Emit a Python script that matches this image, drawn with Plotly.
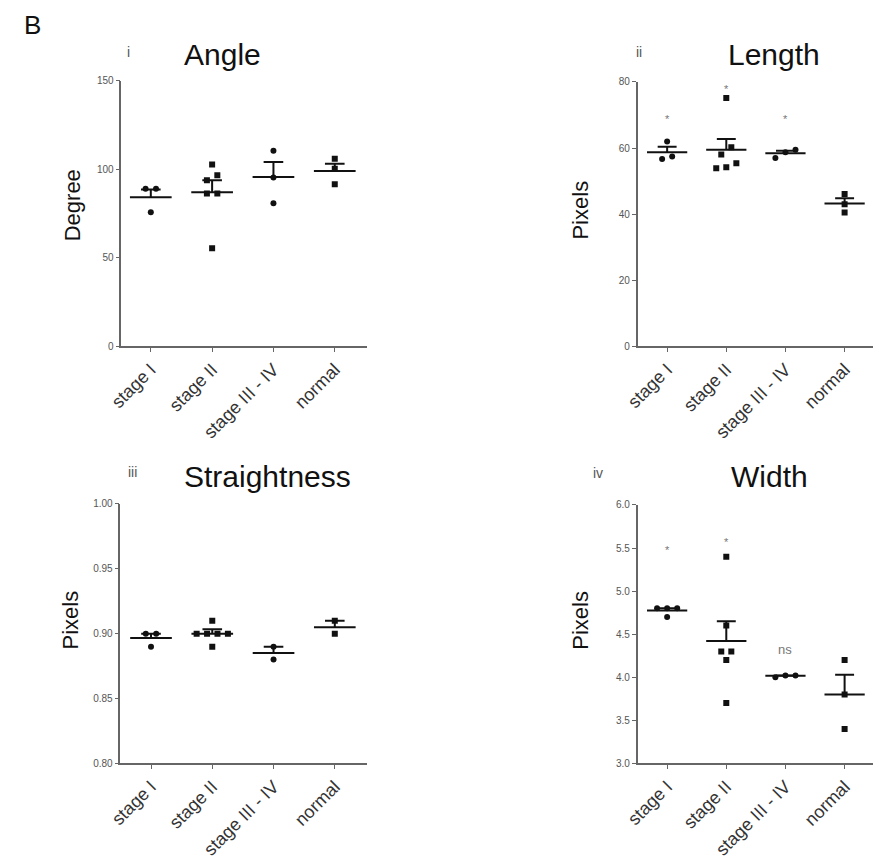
import plotly.graph_objects as go

# ---------------- data ----------------
CATEGORIES = ["stage I", "stage II", "stage III - IV", "normal"]

angle_points = [[89.0, 89.0, 75.8],
                [102.8, 96.7, 93.9, 86.4, 86.4, 55.4],
                [110.6, 95.4, 80.9],
                [106.0, 100.4, 91.6]]
angle_mean = [84.2, 87.0, 95.7, 99.1]
angle_sem = [4.4, 6.9, 8.4, 4.1]

length_points = [[62.0, 57.4, 56.7],
                 [75.1, 60.2, 58.0, 55.4, 53.9, 54.2],
                 [57.0, 59.5, 58.7],
                 [46.1, 43.0, 40.5]]
length_mean = [58.7, 59.5, 58.4, 43.2]
length_sem = [1.7, 3.2, 0.8, 1.6]
length_stars = [69.7, 78.9, 69.7, None]

straight_points = [[0.90, 0.90, 0.89],
                   [0.91, 0.90, 0.90, 0.90, 0.90, 0.89],
                   [0.89, 0.88],
                   [0.91, 0.90]]
straight_mean = [0.8967, 0.900, 0.885, 0.905]
straight_sem = [0.0033, 0.0035, 0.005, 0.005]

width_points = [[4.8, 4.8, 4.8, 4.7],
                [5.4, 4.6, 4.3, 4.3, 4.2, 3.7],
                [4.02, 4.0, 4.02],
                [4.2, 3.8, 3.4]]
width_mean = [4.775, 4.42, 4.016, 3.80]
width_sem = [0.025, 0.23, 0.004, 0.23]
width_marks = ["*", "*", "ns", None]
width_mark_y = [5.51, 5.61, 4.32, None]

angle_ticks = [0, 50, 100, 150]
length_ticks = [0, 20, 40, 60, 80]
straight_ticks = [0.80, 0.85, 0.90, 0.95, 1.00]
width_ticks = [3.0, 3.5, 4.0, 4.5, 5.0, 5.5, 6.0]

# ---------------- helpers ----------------
W, H = 873, 865
SYMBOLS = ["circle", "square", "circle", "square"]
FONT = "Liberation Sans, Arial, sans-serif"


def px(x):
    return x / W


def py(y):
    return 1 - y / H


def spread(vals, tol, step=0.17):
    """Prism-like horizontal spreading of nearly equal values."""
    order = sorted(range(len(vals)), key=lambda i: vals[i])
    clusters = []
    for i in order:
        if clusters and vals[i] - vals[clusters[-1][-1]] <= tol:
            clusters[-1].append(i)
        else:
            clusters.append([i])
    offs = [0.0] * len(vals)
    for c in clusters:
        k = len(c)
        for j, i in enumerate(c):
            offs[i] = (j - (k - 1) / 2) * step
    return offs


fig = go.Figure()

panels = [
    dict(points=angle_points, mean=angle_mean, sem=angle_sem, ticks=angle_ticks, fmt="d",
         yr=[0, 150], xdom=[110, 359], ydom=[345, 76], xr=[-0.48, 3.52]),
    dict(points=length_points, mean=length_mean, sem=length_sem, ticks=length_ticks, fmt="d",
         yr=[0, 80], xdom=[634, 873], ydom=[345, 77], xr=[-0.5, 3.48]),
    dict(points=straight_points, mean=straight_mean, sem=straight_sem, ticks=straight_ticks, fmt=".2f",
         yr=[0.80, 1.00], xdom=[109, 359], ydom=[768, 505], xr=[-0.5, 3.52]),
    dict(points=width_points, mean=width_mean, sem=width_sem, ticks=width_ticks, fmt=".1f",
         yr=[3.0, 6.0], xdom=[634, 873], ydom=[768, 506], xr=[-0.5, 3.48]),
]

layout_axes = {}
for p_i, p in enumerate(panels):
    n = p_i + 1
    xa = "x" if n == 1 else f"x{n}"
    ya = "y" if n == 1 else f"y{n}"
    span = p["yr"][1] - p["yr"][0]
    # points
    for c, vals in enumerate(p["points"]):
        offs = spread(vals, 0.025 * span if p_i == 0 else 0.03 * span)
        fig.add_trace(go.Scatter(
            x=[c + o for o in offs], y=vals, mode="markers", xaxis=xa, yaxis=ya,
            marker=dict(symbol=SYMBOLS[c], size=6, color="#111"),
            showlegend=False, hoverinfo="y"))
    # mean lines and SEM bars
    lx, ly = [], []
    for c, (m, s) in enumerate(zip(p["mean"], p["sem"])):
        lx += [c - 0.34, c + 0.34, None, c, c, None, c - 0.16, c + 0.16, None]
        ly += [m, m, None, m, m + s, None, m + s, m + s, None]
    fig.add_trace(go.Scatter(x=lx, y=ly, mode="lines", xaxis=xa, yaxis=ya,
                             line=dict(color="#111", width=2),
                             showlegend=False, hoverinfo="skip"))
    xkey = "xaxis" if n == 1 else f"xaxis{n}"
    ykey = "yaxis" if n == 1 else f"yaxis{n}"
    layout_axes[xkey] = dict(
        domain=[px(p["xdom"][0]), px(p["xdom"][1])], anchor=ya, range=p["xr"],
        tickmode="array", tickvals=[0, 1, 2, 3], ticktext=CATEGORIES, tickangle=-45,
        showline=True, linecolor="#666", linewidth=1.5, ticks="outside", ticklen=4,
        tickcolor="#666", showgrid=False, zeroline=False,
        tickfont=dict(family=FONT, size=18, color="#333"))
    layout_axes[ykey] = dict(
        domain=[py(p["ydom"][0]), py(p["ydom"][1])], anchor=xa, range=p["yr"],
        tickmode="array", tickvals=p["ticks"],
        ticktext=[format(t, p["fmt"]) if p["fmt"] != "d" else str(int(t)) for t in p["ticks"]],
        showline=True, linecolor="#666", linewidth=1.5, ticks="outside", ticklen=4,
        tickcolor="#666", showgrid=False, zeroline=False,
        tickfont=dict(family=FONT, size=10, color="#555"))

annotations = []


def text(x, y, s, size, color="#111", angle=0):
    annotations.append(dict(x=px(x), y=py(y), xref="paper", yref="paper", text=s,
                            showarrow=False, textangle=angle, xanchor="center", yanchor="middle",
                            font=dict(family=FONT, size=size, color=color)))


text(20, 19, "B", 26)
text(213, 49, "Angle", 30)
text(773, 49, "Length", 30)
text(258, 477, "Straightness", 30)
text(768, 477, "Width", 30)
text(117, 47, "i", 14, "#555")
text(635, 47, "ii", 14, "#555")
text(121, 473, "iii", 14, "#555")
text(594, 474, "iv", 14, "#555")
text(60, 202, "Degree", 22, angle=-90)
text(576, 207, "Pixels", 22, angle=-90)
text(58, 623, "Pixels", 22, angle=-90)
text(576, 623, "Pixels", 22, angle=-90)

# significance marks (data coordinates)
for c, yv in enumerate(length_stars):
    if yv is not None:
        annotations.append(dict(x=c, y=yv, xref="x2", yref="y2", text="*", showarrow=False,
                                yshift=-3, font=dict(family=FONT, size=11, color="#777")))
for c, (s, yv) in enumerate(zip(width_marks, width_mark_y)):
    if s is not None:
        annotations.append(dict(x=c, y=yv, xref="x4", yref="y4", text=s, showarrow=False,
                                yshift=-3 if s == "*" else 0,
                                font=dict(family=FONT, size=11 if s == "*" else 13, color="#777")))

fig.update_layout(width=W, height=H, margin=dict(l=0, r=0, t=0, b=0),
                  paper_bgcolor="white", plot_bgcolor="white", showlegend=False,
                  annotations=annotations, **layout_axes)

fig.write_html("out.html")
